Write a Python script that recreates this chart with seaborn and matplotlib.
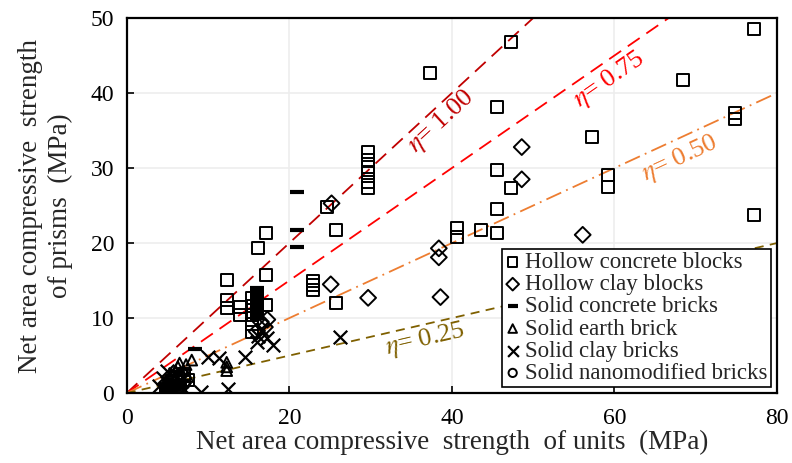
import numpy as np
import pandas as pd
import matplotlib
matplotlib.use("Agg")
import matplotlib.pyplot as plt
import seaborn as sns

# Hollow concrete blocks
hcb_x = [47.3, 37.3, 45.5, 57.2, 68.4, 77.2, 74.8, 74.8, 45.5, 47.3, 45.5, 59.2, 59.2,
         77.2, 40.6, 40.6, 43.6, 45.5, 29.7, 29.7, 29.7, 29.7, 29.7, 29.7, 24.6, 25.7,
         22.9, 22.9, 22.9, 25.7, 17.1, 16.2, 17.1, 12.3, 12.3, 12.3, 14.0, 14.0, 17.1,
         15.4, 15.4, 15.4, 15.4, 15.4, 4.8, 5.2, 5.6, 6.1, 6.6, 7.0, 6.0, 7.5]
hcb_y = [46.8, 42.7, 38.2, 34.2, 41.7, 48.5, 37.3, 36.6, 29.7, 27.3, 24.6, 29.1, 27.5,
         23.7, 22.0, 20.8, 21.8, 21.4, 32.1, 31.1, 30.2, 29.4, 28.2, 27.3, 24.8, 21.8,
         15.0, 14.4, 13.8, 12.0, 21.4, 19.3, 15.7, 15.1, 12.4, 11.3, 11.5, 10.4, 11.7,
         12.7, 11.6, 10.4, 9.2, 8.2, 0.5, 1.0, 1.6, 2.1, 1.0, 2.6, 0.8, 1.8]

# Hollow clay blocks
hclay_x = [25.2, 25.1, 29.7, 38.4, 38.4, 38.6, 48.6, 48.6, 56.1, 17.0, 16.5, 16.0, 17.3]
hclay_y = [25.3, 14.5, 12.7, 19.3, 18.1, 12.8, 32.8, 28.5, 21.1, 8.8, 9.5, 8.2, 9.8]

# Solid concrete bricks
scb_x = [21.0, 21.0, 21.0, 16.0, 16.0, 16.0, 16.0, 16.0, 16.0, 16.0, 16.0, 16.0, 8.4,
         5.0, 5.5, 6.0, 6.5, 7.0, 4.8, 5.8]
scb_y = [26.8, 21.8, 19.5, 14.0, 13.5, 13.0, 12.5, 12.0, 11.5, 11.0, 10.5, 10.0, 5.9,
         0.8, 1.2, 1.5, 1.0, 1.6, 0.4, 0.6]

# Solid earth brick
seb_x = [5.0, 5.5, 6.0, 6.3, 6.5, 7.0, 7.3, 8.0, 6.5, 12.3, 12.3, 12.3, 7.5, 5.8, 5.3]
seb_y = [1.5, 2.5, 3.0, 3.5, 2.0, 3.0, 3.8, 4.4, 4.0, 4.1, 3.5, 3.0, 2.2, 1.2, 2.0]

# Solid clay bricks
scl_x = [4.5, 5.0, 5.5, 6.0, 9.2, 12.5, 10.0, 11.3, 14.5, 16.0, 18.0, 16.2, 17.2,
         26.2, 4.0, 7.0, 16.6, 6.6]
scl_y = [2.0, 3.0, 1.0, 2.5, 0.1, 0.6, 4.8, 4.7, 4.8, 6.8, 6.4, 7.6, 7.3,
         7.5, 1.0, 0.6, 8.4, 1.5]

# Solid nanomodified bricks
snb_x = [5.6, 6.5, 7.1]
snb_y = [1.8, 2.5, 1.2]

eta = [1.00, 0.75, 0.50, 0.25]

groups = [
    ("Hollow concrete blocks", hcb_x, hcb_y, "s", 75, True),
    ("Hollow clay blocks", hclay_x, hclay_y, "D", 65, True),
    ("Solid concrete bricks", scb_x, scb_y, "_", 90, False),
    ("Solid earth brick", seb_x, seb_y, "^", 60, True),
    ("Solid clay bricks", scl_x, scl_y, "x", 95, False),
    ("Solid nanomodified bricks", snb_x, snb_y, "o", 55, True),
]

sns.set_theme(style="ticks")
plt.rcParams["font.family"] = ["Liberation Serif", "DejaVu Serif"]
plt.rcParams["mathtext.fontset"] = "stix"

fig, ax = plt.subplots(figsize=(7.92, 4.63), dpi=100)
fig.subplots_adjust(left=0.160, right=0.981, bottom=0.151, top=0.961)

line_styles = {
    1.00: dict(color="#C00000", dashes=(8, 4.5)),
    0.75: dict(color="#FF0000", dashes=(8, 4.5)),
    0.50: dict(color="#ED7D31", dashes=(9, 3, 1, 3)),
    0.25: dict(color="#7F6000", dashes=(5, 3.5)),
}
xs = np.array([0, 80])
for e in eta:
    st = line_styles[e]
    ax.plot(xs, e * xs, color=st["color"], lw=1.3, dashes=st["dashes"], zorder=1)

for name, x, y, m, s, filled in groups:
    df = pd.DataFrame({"x": x, "y": y})
    if filled:
        sns.scatterplot(data=df, x="x", y="y", marker=m, s=s, facecolor="none",
                        edgecolor="black", linewidth=1.4, label=name, ax=ax, zorder=3)
    else:
        lw = 3.0 if m == "_" else 1.6
        sns.scatterplot(data=df, x="x", y="y", marker=m, s=s, color="black",
                        linewidth=lw, label=name, ax=ax, zorder=3)

# line labels
labels = [
    (38.8, 36.2, 42.7, "#C00000", r"$\eta$= 1.00"),
    (59.4, 41.7, 34.7, "#FF0000", r"$\eta$= 0.75"),
    (68.1, 31.3, 24.8, "#ED7D31", r"$\eta$= 0.50"),
    (36.7, 7.1, 13.0, "#7F6000", r"$\eta$= 0.25"),
]
for lx, ly, rot, c, t in labels:
    ax.text(lx, ly, t, color=c, fontsize=19, rotation=rot, ha="center", va="center",
            rotation_mode="anchor")

ax.set_xlim(0, 80)
ax.set_ylim(0, 50)
ax.set_xticks([0, 20, 40, 60, 80])
ax.set_yticks([0, 10, 20, 30, 40, 50])
ax.grid(True, color="#EDEDED", lw=1.2)
ax.set_axisbelow(True)
for sp in ax.spines.values():
    sp.set_color("black")
    sp.set_linewidth(1.6)
ax.tick_params(direction="in", length=5, width=1.2, labelsize=17, colors="black")
ax.tick_params(axis="x", pad=11)
ax.tick_params(axis="y", pad=9)

ax.set_xlabel("Net area compressive  strength  of units  (MPa)", fontsize=19.5, labelpad=0)
ax.set_ylabel("Net area compressive  strength\nof prisms  (MPa)", fontsize=19.5,
              labelpad=13, linespacing=1.25)

leg = ax.legend(loc="lower right", fontsize=16.5, frameon=True, fancybox=False,
                edgecolor="black", framealpha=1, borderpad=0.15, labelspacing=0.05,
                handlelength=0.6, handletextpad=0.25, borderaxespad=0.25,
                markerscale=0.8)
leg.get_frame().set_linewidth(1.2)

fig.savefig("out.png", dpi=100)
